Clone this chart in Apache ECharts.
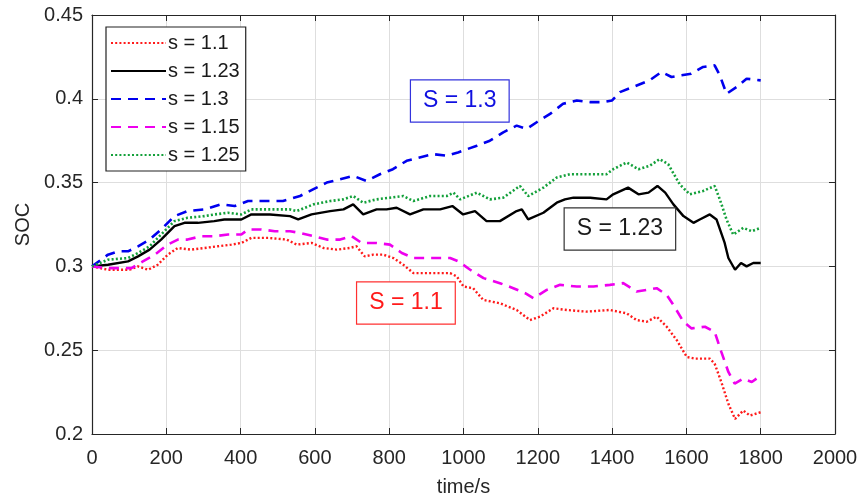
<!DOCTYPE html>
<html>
<head>
<meta charset="utf-8">
<script src="https://cdn.jsdelivr.net/npm/echarts@6/dist/echarts.min.js"></script>
<style>html,body{margin:0;padding:0;background:#fff;}#c{width:861px;height:502px;}</style>
</head>
<body>
<div id="c"></div>
<script>
// ---- data ----
const seriesNames = ['s = 1.1', 's = 1.23', 's = 1.3', 's = 1.15', 's = 1.25'];
const xTicks = [0, 200, 400, 600, 800, 1000, 1200, 1400, 1600, 1800, 2000];
const yTicks = [0.2, 0.25, 0.3, 0.35, 0.4, 0.45];

const t11 = [0,43,70,101,124,151,177,204,231,267,303,339,375,402,429,474,524,551,591,623,659,694,712,734,757,784,811,838,865,910,964,982,1000,1026,1053,1098,1143,1179,1206,1242,1278,1331,1394,1439,1466,1493,1520,1547,1574,1601,1623,1663,1676,1694,1713,1731,1753,1771,1800];
const soc11 = [0.300,0.298,0.298,0.298,0.300,0.298,0.301,0.307,0.311,0.310,0.311,0.312,0.313,0.314,0.317,0.317,0.316,0.313,0.314,0.311,0.310,0.311,0.312,0.306,0.307,0.307,0.305,0.301,0.296,0.296,0.296,0.294,0.288,0.287,0.280,0.278,0.274,0.268,0.270,0.275,0.274,0.273,0.274,0.272,0.268,0.267,0.270,0.264,0.256,0.246,0.245,0.245,0.242,0.231,0.218,0.209,0.214,0.211,0.213];

const t123 = [0,43,97,124,155,186,222,249,285,329,356,402,429,479,533,555,591,641,677,703,730,766,793,820,856,892,937,970,999,1031,1062,1098,1143,1157,1174,1215,1251,1273,1296,1341,1385,1403,1443,1471,1498,1522,1543,1565,1592,1619,1636,1663,1681,1703,1713,1731,1747,1762,1780,1800];
const soc123 = [0.300,0.301,0.303,0.306,0.310,0.316,0.324,0.326,0.326,0.327,0.328,0.328,0.331,0.331,0.330,0.328,0.331,0.333,0.334,0.337,0.331,0.334,0.334,0.335,0.331,0.334,0.334,0.336,0.331,0.333,0.327,0.327,0.333,0.334,0.328,0.332,0.338,0.340,0.341,0.341,0.340,0.343,0.347,0.343,0.344,0.348,0.344,0.337,0.330,0.326,0.328,0.331,0.328,0.314,0.305,0.298,0.302,0.300,0.302,0.302];

const t13 = [0,43,70,97,124,155,186,222,257,303,347,384,420,455,514,560,595,632,668,703,739,775,810,847,882,918,955,985,1036,1071,1107,1143,1170,1197,1233,1268,1305,1341,1376,1400,1421,1456,1501,1533,1560,1587,1613,1645,1676,1690,1708,1735,1762,1800];
const soc13 = [0.300,0.307,0.309,0.309,0.312,0.316,0.322,0.330,0.333,0.334,0.337,0.336,0.339,0.339,0.339,0.342,0.346,0.350,0.352,0.354,0.351,0.355,0.358,0.363,0.365,0.367,0.366,0.368,0.372,0.375,0.380,0.384,0.382,0.386,0.391,0.397,0.399,0.398,0.398,0.399,0.404,0.407,0.411,0.416,0.413,0.414,0.415,0.419,0.420,0.414,0.403,0.407,0.412,0.411];

const t115 = [0,43,79,106,137,169,204,231,257,294,329,366,402,420,456,492,533,560,596,632,668,699,726,766,802,834,865,910,964,986,1018,1054,1098,1134,1166,1188,1224,1260,1305,1350,1394,1430,1466,1493,1520,1547,1565,1592,1614,1650,1676,1694,1713,1730,1753,1776,1795];
const soc115 = [0.300,0.299,0.299,0.299,0.303,0.307,0.313,0.316,0.316,0.318,0.318,0.319,0.319,0.322,0.322,0.321,0.321,0.320,0.318,0.316,0.316,0.318,0.314,0.314,0.313,0.308,0.305,0.305,0.305,0.303,0.298,0.293,0.290,0.287,0.284,0.281,0.286,0.289,0.288,0.288,0.289,0.290,0.285,0.286,0.287,0.283,0.277,0.267,0.263,0.264,0.261,0.249,0.237,0.230,0.233,0.231,0.234];

const t125 = [0,43,97,124,155,186,222,257,303,329,366,402,429,479,533,551,596,641,677,703,730,766,802,838,865,910,955,973,991,1036,1071,1107,1152,1174,1215,1251,1287,1341,1385,1403,1439,1471,1501,1528,1551,1582,1609,1645,1676,1690,1708,1726,1753,1776,1800];
const soc125 = [0.300,0.304,0.305,0.308,0.312,0.319,0.327,0.329,0.330,0.331,0.332,0.331,0.334,0.334,0.334,0.333,0.337,0.339,0.340,0.342,0.338,0.340,0.341,0.342,0.339,0.342,0.342,0.344,0.340,0.344,0.340,0.341,0.348,0.342,0.347,0.353,0.355,0.355,0.355,0.358,0.362,0.358,0.360,0.364,0.361,0.349,0.343,0.345,0.348,0.340,0.328,0.319,0.323,0.321,0.323];

// annotation labels (text + anchor in data coords)
const annotText = ['S = 1.3', 'S = 1.23', 'S = 1.1'];
const annotTime = [990, 1421, 845];
const annotSoc = [0.3987, 0.3223, 0.2782];

// ---- chart ----
const zip = (a, b) => a.map((x, i) => [x, b[i]]);
const FONT = '"Liberation Sans", Arial, Helvetica, sans-serif';
const AX = '#262626';
const chart = echarts.init(document.getElementById('c'), null, {renderer: 'canvas'});

function annot(idx, color, border) {
  return {
    symbol: 'rect', symbolSize: 0, silent: true,
    data: [{coord: [annotTime[idx], annotSoc[idx]], value: annotText[idx]}],
    label: {
      show: true, position: 'inside', formatter: annotText[idx],
      fontFamily: FONT, fontSize: 23, color: color,
      backgroundColor: '#fff', borderColor: border, borderWidth: 1.2,
      padding: [8, 12, 7, 12], lineHeight: 26
    }
  };
}

const styles = [
  {color: '#ff1a1a', type: [2, 2.2], width: 2.4},
  {color: '#000000', type: 'solid', width: 2.4},
  {color: '#0000ee', type: [10, 7], width: 2.6},
  {color: '#ee00ee', type: [10, 7], width: 2.6},
  {color: '#13a03a', type: [2, 2.2], width: 2.6}
];
const datas = [zip(t11, soc11), zip(t123, soc123), zip(t13, soc13), zip(t115, soc115), zip(t125, soc125)];

const series = seriesNames.map((n, i) => ({
  name: n, type: 'line', data: datas[i], showSymbol: false, symbol: 'none',
  xAxisIndex: 0, yAxisIndex: 0,
  lineStyle: {color: styles[i].color, type: styles[i].type, width: styles[i].width},
  itemStyle: {color: styles[i].color},
  z: 3
}));
series[2].markPoint = annot(0, '#1010e0', '#3333dd');
series[1].markPoint = annot(1, '#1a1a1a', '#333');
series[0].markPoint = annot(2, '#ff1a1a', '#ff3030');

chart.setOption({
  animation: false,
  backgroundColor: '#fff',
  grid: {left: 92, right: 26, top: 15, bottom: 68, containLabel: false},
  legend: {
    data: seriesNames, orient: 'vertical', left: 106, top: 27,
    itemWidth: 55, itemHeight: 14, itemGap: 8,
    padding: [6, 6, 6, 4],
    borderColor: '#222', borderWidth: 1.2, backgroundColor: '#fff',
    itemStyle: {opacity: 0},
    textStyle: {fontFamily: FONT, fontSize: 20, color: '#1a1a1a', lineHeight: 20, padding: [0,0,0,-3]}
  },
  xAxis: [{
    type: 'value', min: 0, max: 2000, interval: 200,
    name: 'time/s', nameLocation: 'middle', nameGap: 43,
    nameTextStyle: {fontFamily: FONT, fontSize: 20, color: AX},
    axisLine: {show: true, onZero: false, lineStyle: {color: AX, width: 1.2}},
    axisTick: {show: true, inside: true, length: 6, lineStyle: {color: AX}},
    axisLabel: {fontFamily: FONT, fontSize: 20, color: AX, margin: 14, formatter: v => String(v)},
    splitLine: {show: true, lineStyle: {color: '#dedede', width: 1}}
  }, {
    type: 'value', min: 0, max: 2000, interval: 200, position: 'top',
    axisLine: {show: true, onZero: false, lineStyle: {color: AX, width: 1.2}},
    axisTick: {show: true, inside: true, length: 6, lineStyle: {color: AX}},
    axisLabel: {show: false}, splitLine: {show: false}
  }],
  yAxis: [{
    type: 'value', min: 0.2, max: 0.45, interval: 0.05,
    name: 'SOC', nameLocation: 'middle', nameGap: 56, nameRotate: 90,
    nameTextStyle: {fontFamily: FONT, fontSize: 20, color: AX},
    axisLine: {show: true, onZero: false, lineStyle: {color: AX, width: 1.2}},
    axisTick: {show: true, inside: true, length: 6, lineStyle: {color: AX}},
    axisLabel: {fontFamily: FONT, fontSize: 20, color: AX, margin: 9,
      formatter: v => String(Math.round(v * 100) / 100)},
    splitLine: {show: true, lineStyle: {color: '#dedede', width: 1}}
  }, {
    type: 'value', min: 0.2, max: 0.45, interval: 0.05, position: 'right',
    axisLine: {show: true, onZero: false, lineStyle: {color: AX, width: 1.2}},
    axisTick: {show: true, inside: true, length: 6, lineStyle: {color: AX}},
    axisLabel: {show: false}, splitLine: {show: false}
  }],
  series: series
});
</script>
</body>
</html>
